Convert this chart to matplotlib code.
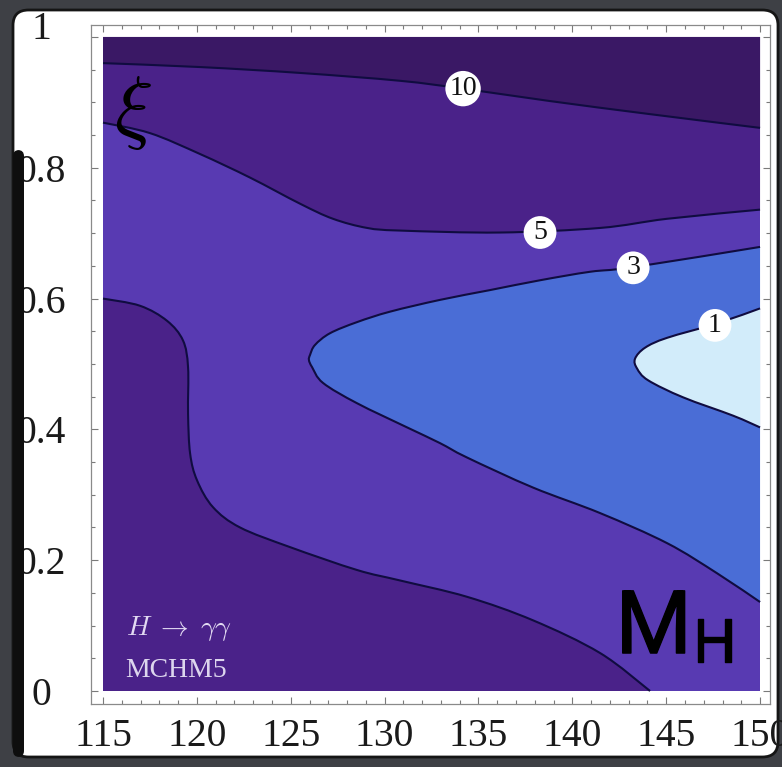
import numpy as np
import matplotlib
matplotlib.use("Agg")
import matplotlib.pyplot as plt
import matplotlib.patheffects as pe
from matplotlib.path import Path
from matplotlib.patches import PathPatch, FancyBboxPatch, Rectangle
from matplotlib.ticker import MultipleLocator
from matplotlib.transforms import offset_copy

# Contour lines of the H -> gamma gamma significance in the (M_H, xi) plane
c10_mh = [115.0, 120.17, 125.50, 130.82, 134.18, 138.81, 144.14, 150.0]
c10_xi = [0.960, 0.954, 0.945, 0.933, 0.921, 0.902, 0.882, 0.861]

c5u_mh = [115.0, 117.5, 120.17, 122.83, 125.5, 127.25, 129.07, 130.82, 136.15, 141.48, 145.05, 150.0]
c5u_xi = [0.869, 0.853, 0.821, 0.785, 0.745, 0.722, 0.708, 0.704, 0.701, 0.708, 0.722, 0.736]

c5l_mh = [115.0, 116.97, 118.41, 119.26, 119.53, 119.53, 119.64, 120.01, 120.86, 122.30,
          124.96, 128.53, 130.82, 134.39, 137.91, 141.48, 144.14]
c5l_xi = [0.600, 0.589, 0.566, 0.536, 0.495, 0.424, 0.363, 0.322, 0.281, 0.250,
          0.220, 0.185, 0.169, 0.144, 0.108, 0.058, 0.0]

c3_mh = [150.0, 143.24, 140.95, 138.28, 135.62, 132.95, 130.29, 128.53, 127.09, 126.29, 126.03,
         125.97, 126.14, 126.72, 128.53, 131.20, 132.95, 134.39, 137.91, 141.48, 145.05, 147.71, 150.0]
c3_xi = [0.679, 0.648, 0.641, 0.628, 0.613, 0.598, 0.580, 0.564, 0.547, 0.529, 0.514,
         0.506, 0.495, 0.471, 0.440, 0.403, 0.379, 0.357, 0.311, 0.272, 0.226, 0.180, 0.136]

c1_mh = [150.0, 147.71, 145.05, 143.88, 143.34, 143.45, 144.04, 145.90, 148.56, 150.0]
c1_xi = [0.585, 0.562, 0.540, 0.525, 0.508, 0.493, 0.475, 0.449, 0.421, 0.403]

# contour label values and their positions on the lines
label_text = ["10", "5", "3", "1"]
label_mh = [134.18, 138.28, 143.24, 147.60]
label_xi = [0.921, 0.701, 0.647, 0.559]

x_ticks = [115, 120, 125, 130, 135, 140, 145, 150]
y_ticks = [0, 0.2, 0.4, 0.6, 0.8, 1.0]
y_tick_labels = ["0", "0.2", "0.4", "0.6", "0.8", "1"]

col_gt10 = "#3a1865"
col_5_10 = "#4a2289"
col_3_5 = "#583ab2"
col_1_3 = "#4a6dd6"
col_lt1 = "#d2ecfa"
line_col = "#100c40"


def smooth(xs, ys):
    """Cubic Bezier segments passing through the given points."""
    p = np.column_stack([xs, ys]).astype(float)
    ext = np.vstack([p[0], p, p[-1]])
    verts = [p[0]]
    codes = [Path.MOVETO]
    for i in range(len(p) - 1):
        p0, p1, p2, p3 = ext[i], ext[i + 1], ext[i + 2], ext[i + 3]
        verts += [p1 + (p2 - p0) / 6.0, p2 - (p3 - p1) / 6.0, p2]
        codes += [Path.CURVE4] * 3
    return verts, codes


def region(xs, ys, extra):
    verts, codes = smooth(xs, ys)
    for pt in extra:
        verts.append(np.array(pt, float))
        codes.append(Path.LINETO)
    verts.append(verts[0])
    codes.append(Path.CLOSEPOLY)
    return Path(verts, codes)


W, H = 782, 767
fig = plt.figure(figsize=(W / 100, H / 100), dpi=100, facecolor="#3e4045")

# slide panel
panel = FancyBboxPatch((13 / W, 1 - 757 / H), 765 / W, 747 / H,
                       boxstyle="round,pad=0,rounding_size=0.02",
                       transform=fig.transFigure, fc="white", ec="#151515", lw=2, zorder=-5)
fig.add_artist(panel)

ax = fig.add_axes([91 / W, 1 - 704 / H, 679 / W, 679 / H])
ax.set_facecolor("white")
ax.set_xlim(114.36, 150.53)
ax.set_ylim(-0.0199, 1.0183)

# filled bands
ax.add_patch(Rectangle((115, 0), 35, 1, fc=col_3_5, ec="none", zorder=1))
ax.add_patch(PathPatch(region(c5u_mh, c5u_xi, [(150, 1), (115, 1)]), fc=col_5_10, ec="none", zorder=2))
ax.add_patch(PathPatch(region(c10_mh, c10_xi, [(150, 1), (115, 1)]), fc=col_gt10, ec="none", zorder=3))
ax.add_patch(PathPatch(region(c5l_mh, c5l_xi, [(115, 0)]), fc=col_5_10, ec="none", zorder=2))
ax.add_patch(PathPatch(region(c3_mh, c3_xi, []), fc=col_1_3, ec="none", zorder=2))
ax.add_patch(PathPatch(region(c1_mh, c1_xi, []), fc=col_lt1, ec="none", zorder=3))

# contour lines
for xs, ys in [(c10_mh, c10_xi), (c5u_mh, c5u_xi), (c5l_mh, c5l_xi), (c3_mh, c3_xi), (c1_mh, c1_xi)]:
    v, c = smooth(xs, ys)
    ax.add_patch(PathPatch(Path(v, c), fc="none", ec=line_col, lw=1.5, zorder=4))

for t, x, y in zip(label_text, label_mh, label_xi):
    ax.text(x, y, t, ha="center", va="center", fontsize=20, family="Liberation Serif",
            color="#111111", zorder=6,
            bbox=dict(boxstyle="circle,pad=0.14", fc="white", ec="none"))

# annotations
ax.text(116.6, 0.884, r"$\xi$", fontsize=58, ha="center", va="center", color="black",
        math_fontfamily="cm", zorder=7)
thick = [pe.withStroke(linewidth=1.0, foreground="black")]
ax.text(142.3, 0.058, "M", fontsize=63, family="Roboto", color="black",
        ha="left", va="baseline", zorder=7, path_effects=thick)
ax.text(146.4, 0.044, "H", fontsize=44, family="Roboto", color="black", ha="left",
        va="baseline", zorder=7, path_effects=thick)
ax.text(116.25, 0.0856, r"$H\;\rightarrow\;\gamma\gamma$", fontsize=20, color="#e2daf2",
        math_fontfamily="cm", ha="left", va="baseline", zorder=7)
ax.text(116.17, 0.0214, "MCHM5", fontsize=20, family="Liberation Serif", color="#ddd6ee",
        ha="left", va="baseline", zorder=7)

# frame and ticks
for s in ax.spines.values():
    s.set_color("#8a8a8a")
    s.set_linewidth(0.9)
ax.set_xticks(x_ticks)
ax.set_yticks(y_ticks)
ax.set_yticklabels(y_tick_labels[:-1] + [""])
ax.xaxis.set_minor_locator(MultipleLocator(1))
ax.yaxis.set_minor_locator(MultipleLocator(0.05))
ax.tick_params(which="both", direction="in", top=True, right=True, color="#7a7a7a", width=0.8)
ax.tick_params(which="major", length=5)
ax.tick_params(which="minor", length=3)
ax.tick_params(axis="x", which="major", pad=10, labelsize=28.5, labelcolor="#1a1a1a")
ax.tick_params(axis="y", which="major", pad=36, labelsize=28.5, labelcolor="#1a1a1a")
for lbl in ax.get_xticklabels() + ax.get_yticklabels():
    lbl.set_family("Liberation Serif")
for lbl in ax.get_yticklabels():
    lbl.set_ha("center")

# the top label sits a little above its tick
top_tr = offset_copy(ax.get_yaxis_transform(), fig=fig, x=-50, y=7, units="dots")
ax.text(0, y_ticks[-1], y_tick_labels[-1], transform=top_tr, ha="center", va="center",
        fontsize=28.5, family="Liberation Serif", color="#1a1a1a", clip_on=False)

# dark edge strip on the left of the slide
fig.add_artist(FancyBboxPatch((13 / W, 1 - 757 / H), 11 / W, 607 / H,
                              boxstyle="round,pad=0,rounding_size=0.008",
                              transform=fig.transFigure, fc="#0e0e0e", ec="none", zorder=5))

fig.savefig("out.png", dpi=100, facecolor=fig.get_facecolor())
